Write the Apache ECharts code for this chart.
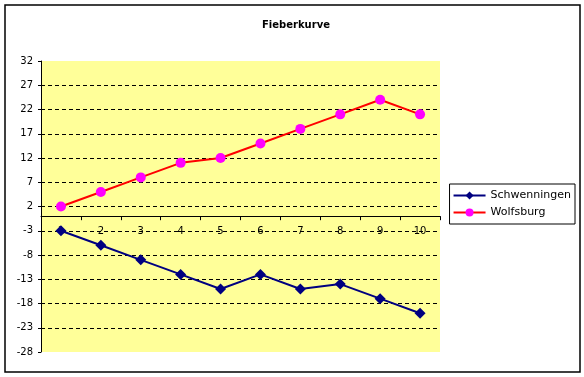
<!DOCTYPE html>
<html><head><meta charset="utf-8">
<script src="https://cdn.jsdelivr.net/npm/echarts@6/dist/echarts.min.js"></script>
<style>html,body{margin:0;padding:0;background:#fff}#c{width:584px;height:377px}</style>
</head><body><div id="c"></div>
<script>
var categories = ['1','2','3','4','5','6','7','8','9','10'];
var schwenningen = [-3,-6,-9,-12,-15,-12,-15,-14,-17,-20];
var wolfsburg = [2,5,8,11,12,15,18,21,24,21];
var yMin = -28, yMax = 32, yStep = 5;

var gridTop = 61, gridBottom = 25, H = 377;
var plotH = H - gridTop - gridBottom;
var zeroOffset = -plotH * (0 - yMin) / (yMax - yMin);

var chart = echarts.init(document.getElementById('c'), null, {renderer:'canvas'});
var font = 'DejaVu Sans';
chart.setOption({
  animation:false,
  backgroundColor:'#fff',
  title:{text:'Fieberkurve', left:291, top:15, textAlign:'center',
    textStyle:{fontFamily:font, fontSize:10, fontWeight:'bold', color:'#000'}},
  graphic:[{type:'rect', shape:{x:5,y:5,width:575,height:367}, style:{fill:'none', stroke:'#000', lineWidth:1.5}, z:-1}],
  legend:{right:584-575, top:184, orient:'vertical', itemWidth:32, itemHeight:10, itemGap:6,
    padding:[6,4,6,3], borderColor:'#000', borderWidth:1,
    textStyle:{fontFamily:font, fontSize:11, color:'#000'},
    data:['Schwenningen','Wolfsburg']},
  grid:{left:41, top:gridTop, right:144, bottom:gridBottom, show:true, backgroundColor:'#FFFF99', borderWidth:0},
  xAxis:{type:'category', data:categories, boundaryGap:true, position:'bottom', offset:zeroOffset,
    axisLine:{onZero:false, lineStyle:{color:'#000', width:1}},
    axisTick:{show:true, inside:false, length:4, alignWithLabel:false, lineStyle:{color:'#000'}},
    axisLabel:{fontFamily:font, fontSize:10, color:'#000', margin:10},
    splitLine:{show:false}},
  yAxis:{type:'value', min:yMin, max:yMax, interval:yStep,
    axisLine:{show:true, lineStyle:{color:'#000', width:1}},
    axisTick:{show:true, length:3, lineStyle:{color:'#000'}},
    axisLabel:{fontFamily:font, fontSize:10, color:'#000', margin:8},
    splitLine:{show:true, lineStyle:{color:'#000', type:[4,3], width:1},
      showMinLine:false, showMaxLine:false}},
  series:[
    {name:'Schwenningen', type:'line', data:schwenningen, symbol:'diamond', symbolSize:11,
      lineStyle:{color:'#000080', width:2}, itemStyle:{color:'#000080'}, z:5},
    {name:'Wolfsburg', type:'line', data:wolfsburg, symbol:'circle', symbolSize:10,
      lineStyle:{color:'#FF0000', width:2}, itemStyle:{color:'#FF00FF'}, z:5}
  ]
});
</script></body></html>
